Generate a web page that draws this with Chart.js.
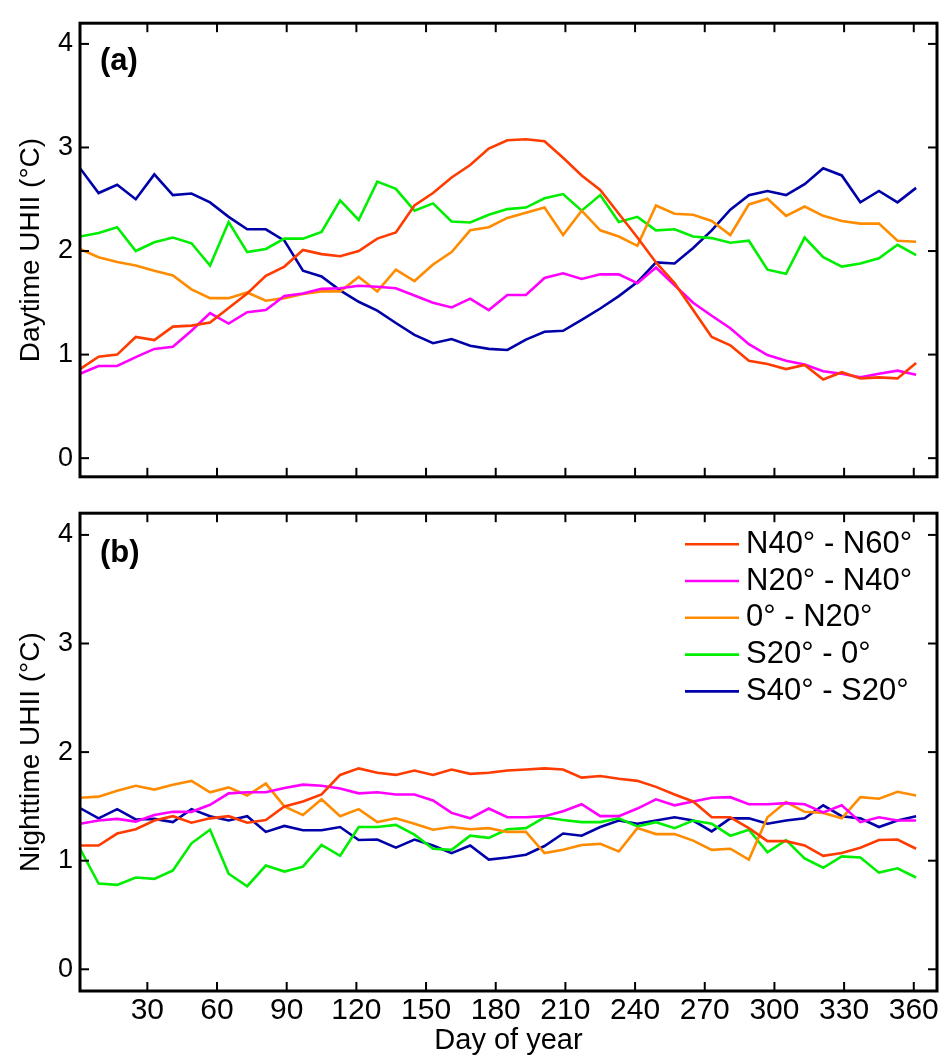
<!DOCTYPE html>
<html>
<head>
<meta charset="utf-8">
<script src="https://cdn.jsdelivr.net/npm/chart.js@4.4.0/dist/chart.umd.min.js"></script>
<style>
  html, body { margin: 0; padding: 0; background: #fff; }
  #wrap { position: relative; width: 944px; height: 1058px; }
  .panel { position: absolute; left: 0; width: 944px; }
  #p1 { top: 0; height: 500px; }
  #p2 { top: 490px; height: 568px; }
</style>
</head>
<body>
<div id="wrap">
  <div class="panel" id="p1"><canvas id="dayChart"></canvas></div>
  <div class="panel" id="p2"><canvas id="nightChart"></canvas></div>
</div>
<script>
// ===== DATA =====
const days = [1, 9, 17, 25, 33, 41, 49, 57, 65, 73, 81, 89, 97, 105, 113, 121, 129, 137, 145, 153, 161, 169, 177,
  185, 193, 201, 209, 217, 225, 233, 241, 249, 257, 265, 273, 281, 289, 297, 305, 313, 321, 329, 337, 345, 353, 361];
const xTicks = [30, 60, 90, 120, 150, 180, 210, 240, 270, 300, 330, 360];
const yTicks = [0, 1, 2, 3, 4];
const bandLabels = ['N40° - N60°', 'N20° - N40°', '0° - N20°', 'S20° - 0°', 'S40° - S20°'];
const bandColors = ['#ff3c00', '#ff00ff', '#ff8c00', '#00ee00', '#0000a8'];

// daytime UHII (panel a)
const dayN40N60 = [0.86, 0.98, 1.00, 1.17, 1.14, 1.27, 1.28, 1.31, 1.45, 1.59, 1.76, 1.85, 2.01, 1.97, 1.95, 2.00, 2.12, 2.18, 2.44, 2.56, 2.71, 2.83, 2.99,
  3.07, 3.08, 3.06, 2.90, 2.73, 2.59, 2.36, 2.13, 1.89, 1.69, 1.43, 1.17, 1.09, 0.94, 0.91, 0.86, 0.90, 0.76, 0.83, 0.77, 0.78, 0.77, 0.92];
const dayN20N40 = [0.815, 0.89, 0.89, 0.975, 1.055, 1.075, 1.23, 1.40, 1.30, 1.41, 1.43, 1.565, 1.59, 1.635, 1.64, 1.665, 1.655, 1.64, 1.57, 1.50, 1.455, 1.54, 1.43,
  1.575, 1.575, 1.74, 1.785, 1.73, 1.775, 1.775, 1.69, 1.84, 1.67, 1.50, 1.375, 1.255, 1.10, 0.995, 0.94, 0.905, 0.84, 0.815, 0.78, 0.815, 0.845, 0.805];
const day0N20 = [2.02, 1.94, 1.895, 1.86, 1.81, 1.765, 1.63, 1.545, 1.545, 1.60, 1.52, 1.545, 1.585, 1.61, 1.61, 1.75, 1.61, 1.82, 1.71, 1.87, 1.99, 2.20, 2.23,
  2.32, 2.37, 2.42, 2.155, 2.39, 2.20, 2.14, 2.05, 2.44, 2.36, 2.35, 2.29, 2.155, 2.45, 2.505, 2.34, 2.43, 2.34, 2.29, 2.265, 2.265, 2.10, 2.09];
const dayS20_0 = [2.14, 2.175, 2.23, 2.00, 2.085, 2.13, 2.075, 1.86, 2.28, 1.99, 2.02, 2.12, 2.12, 2.185, 2.49, 2.30, 2.67, 2.60, 2.39, 2.46, 2.285, 2.275, 2.35,
  2.405, 2.42, 2.51, 2.55, 2.39, 2.54, 2.28, 2.33, 2.20, 2.21, 2.14, 2.125, 2.08, 2.10, 1.82, 1.78, 2.13, 1.94, 1.85, 1.88, 1.93, 2.06, 1.96];
const dayS40S20 = [2.80, 2.56, 2.64, 2.50, 2.74, 2.54, 2.555, 2.47, 2.33, 2.21, 2.21, 2.10, 1.81, 1.755, 1.62, 1.51, 1.425, 1.305, 1.19, 1.11, 1.15, 1.085, 1.055,
  1.045, 1.145, 1.22, 1.23, 1.335, 1.445, 1.565, 1.70, 1.89, 1.88, 2.03, 2.20, 2.40, 2.54, 2.58, 2.54, 2.645, 2.80, 2.73, 2.47, 2.58, 2.47, 2.61];

// nighttime UHII (panel b)
const nightN40N60 = [1.14, 1.14, 1.25, 1.29, 1.37, 1.41, 1.35, 1.39, 1.41, 1.35, 1.375, 1.50, 1.545, 1.61, 1.79, 1.85, 1.81, 1.79, 1.83, 1.79, 1.84, 1.80, 1.81,
  1.83, 1.84, 1.85, 1.84, 1.765, 1.78, 1.755, 1.735, 1.68, 1.61, 1.545, 1.40, 1.40, 1.30, 1.18, 1.18, 1.14, 1.045, 1.07, 1.12, 1.19, 1.195, 1.11];
const nightN20N40 = [1.34, 1.37, 1.385, 1.36, 1.42, 1.45, 1.45, 1.515, 1.62, 1.63, 1.63, 1.67, 1.70, 1.69, 1.665, 1.62, 1.63, 1.61, 1.61, 1.555, 1.44, 1.39, 1.48,
  1.40, 1.40, 1.41, 1.455, 1.52, 1.41, 1.41, 1.48, 1.565, 1.51, 1.545, 1.58, 1.585, 1.52, 1.52, 1.53, 1.52, 1.445, 1.51, 1.355, 1.40, 1.37, 1.37];
const night0N20 = [1.58, 1.59, 1.645, 1.69, 1.655, 1.70, 1.735, 1.63, 1.675, 1.60, 1.71, 1.50, 1.42, 1.565, 1.41, 1.475, 1.355, 1.39, 1.34, 1.285, 1.31, 1.29, 1.30,
  1.265, 1.265, 1.07, 1.10, 1.145, 1.155, 1.085, 1.30, 1.245, 1.245, 1.185, 1.10, 1.11, 1.01, 1.40, 1.54, 1.45, 1.44, 1.39, 1.585, 1.57, 1.635, 1.60];
const nightS20_0 = [1.11, 0.79, 0.777, 0.845, 0.833, 0.91, 1.16, 1.285, 0.88, 0.765, 0.955, 0.90, 0.945, 1.145, 1.045, 1.31, 1.31, 1.33, 1.24, 1.11, 1.10, 1.23, 1.21,
  1.29, 1.30, 1.40, 1.375, 1.355, 1.355, 1.39, 1.315, 1.355, 1.30, 1.37, 1.34, 1.23, 1.285, 1.077, 1.19, 1.02, 0.935, 1.04, 1.03, 0.89, 0.93, 0.845];
const nightS40S20 = [1.485, 1.39, 1.475, 1.38, 1.385, 1.355, 1.475, 1.41, 1.37, 1.41, 1.265, 1.32, 1.28, 1.28, 1.31, 1.19, 1.195, 1.12, 1.195, 1.14, 1.07, 1.14, 1.01,
  1.03, 1.055, 1.135, 1.25, 1.23, 1.31, 1.37, 1.34, 1.37, 1.40, 1.37, 1.27, 1.39, 1.39, 1.34, 1.37, 1.39, 1.51, 1.41, 1.39, 1.31, 1.37, 1.41];

const FONT = '"Liberation Sans", Arial, Helvetica, sans-serif';

function makeDatasets(series) {
  return series.map((vals, i) => ({
    label: bandLabels[i],
    data: days.map((d, k) => ({ x: d, y: vals[k] })),
    borderColor: bandColors[i],
    backgroundColor: bandColors[i],
    borderWidth: 2.6,
    pointRadius: 0,
    tension: 0,
    fill: false
  }));
}

function seg(ctx, x1, y1, x2, y2) {
  ctx.beginPath(); ctx.moveTo(x1, y1); ctx.lineTo(x2, y2); ctx.stroke();
}

// box around the plot, inward ticks on all four sides, panel letter
const framePlugin = {
  id: 'frame',
  afterDraw(chart, args, opts) {
    const { ctx, chartArea: a } = chart;
    const x = chart.scales.x, y = chart.scales.y;
    const tl = 9;
    ctx.save();
    ctx.strokeStyle = '#000';
    ctx.lineWidth = 2;
    xTicks.forEach(v => {
      const px = x.getPixelForValue(v);
      seg(ctx, px, a.top, px, a.top + tl);
      seg(ctx, px, a.bottom, px, a.bottom - tl);
    });
    yTicks.forEach(v => {
      const py = y.getPixelForValue(v);
      seg(ctx, a.left, py, a.left + tl, py);
      seg(ctx, a.right, py, a.right - tl, py);
    });
    ctx.lineWidth = 3;
    ctx.strokeRect(a.left, a.top, a.right - a.left, a.bottom - a.top);
    ctx.fillStyle = '#000';
    ctx.font = 'bold 31px ' + FONT;
    ctx.textBaseline = 'middle';
    ctx.textAlign = 'left';
    ctx.fillText(opts.label, a.left + 20, a.top + opts.labelDy);
    ctx.restore();
  }
};

// legend stacked in the upper right of panel b
const bandLegend = {
  id: 'bandLegend',
  afterDraw(chart) {
    const { ctx, chartArea: a } = chart;
    ctx.save();
    ctx.font = '31px ' + FONT;
    ctx.textBaseline = 'middle';
    ctx.textAlign = 'left';
    chart.data.datasets.forEach((ds, i) => {
      const yy = a.top + 31 + i * 36.8;
      ctx.strokeStyle = ds.borderColor;
      ctx.lineWidth = 2.6;
      seg(ctx, a.left + 605, yy, a.left + 659, yy);
      ctx.fillStyle = '#000';
      ctx.fillText(ds.label, a.left + 666, yy);
    });
    ctx.restore();
  }
};

function yScale(title, min) {
  return {
    type: 'linear',
    min: min,
    max: 4.2,
    afterBuildTicks: s => { s.ticks = yTicks.map(v => ({ value: v })); },
    afterFit: s => { s.width = 80; },
    grid: { display: false, drawTicks: false },
    border: { display: false },
    ticks: { color: '#000', padding: 7, font: { family: FONT, size: 27 } },
    title: { display: true, text: title, color: '#000', padding: { top: 14, bottom: 0 }, font: { family: FONT, size: 28 } }
  };
}

// ===== PANEL (a) DAYTIME =====
new Chart(document.getElementById('dayChart').getContext('2d'), {
  type: 'line',
  data: { datasets: makeDatasets([dayN40N60, dayN20N40, day0N20, dayS20_0, dayS40S20]) },
  options: {
    responsive: true,
    maintainAspectRatio: false,
    animation: false,
    layout: { padding: { left: 0, right: 7, top: 7, bottom: 2 } },
    plugins: { legend: { display: false }, tooltip: { enabled: false }, frame: { label: '(a)', labelDy: 38 } },
    scales: {
      x: { type: 'linear', min: 1, max: 370, display: false },
      y: yScale('Daytime UHII (°C)', -0.18)
    }
  },
  plugins: [framePlugin]
});

// ===== PANEL (b) NIGHTTIME =====
new Chart(document.getElementById('nightChart').getContext('2d'), {
  type: 'line',
  data: { datasets: makeDatasets([nightN40N60, nightN20N40, night0N20, nightS20_0, nightS40S20]) },
  options: {
    responsive: true,
    maintainAspectRatio: false,
    animation: false,
    layout: { padding: { left: 0, right: 7, top: 8, bottom: 0 } },
    plugins: { legend: { display: false }, tooltip: { enabled: false }, frame: { label: '(b)', labelDy: 40 } },
    scales: {
      x: {
        type: 'linear',
        min: 1,
        max: 370,
        afterBuildTicks: s => { s.ticks = xTicks.map(v => ({ value: v })); },
        afterFit: s => { s.height = 67; },
        grid: { display: false, drawTicks: false },
        border: { display: false },
        ticks: { color: '#000', padding: 2, maxRotation: 0, autoSkip: false, font: { family: FONT, size: 30 } },
        title: { display: true, text: 'Day of year', color: '#000', padding: { top: 0, bottom: 0 }, font: { family: FONT, size: 29 } }
      },
      y: yScale('Nighttime UHII (°C)', -0.2)
    }
  },
  plugins: [framePlugin, bandLegend]
});
</script>
</body>
</html>
